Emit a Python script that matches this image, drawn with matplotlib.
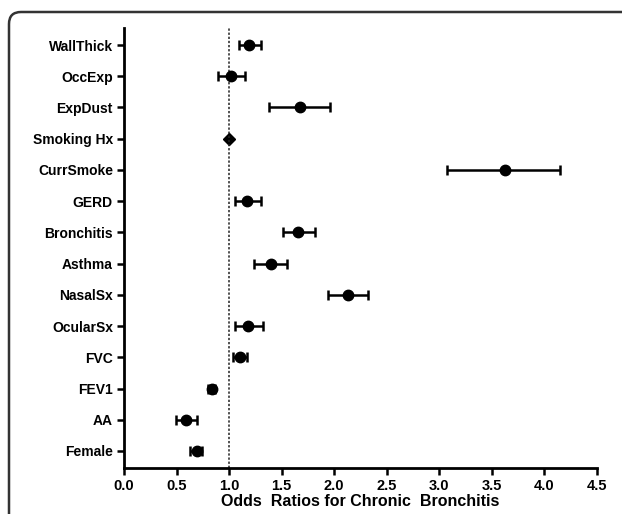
import matplotlib.pyplot as plt
import numpy as np
from matplotlib.patches import FancyBboxPatch
from matplotlib.transforms import IdentityTransform

# Odds ratios with 95% CI, listed bottom to top
labels = ['Female', 'AA', 'FEV1', 'FVC', 'OcularSx', 'NasalSx', 'Asthma',
          'Bronchitis', 'GERD', 'CurrSmoke', 'Smoking Hx', 'ExpDust',
          'OccExp', 'WallThick']
odds = [0.69, 0.59, 0.84, 1.10, 1.18, 2.13, 1.40,
        1.66, 1.17, 3.62, 1.00, 1.67, 1.02, 1.19]
ci_low = [0.63, 0.49, 0.80, 1.04, 1.06, 1.94, 1.24,
          1.51, 1.06, 3.07, 1.00, 1.38, 0.89, 1.09]
ci_high = [0.74, 0.69, 0.87, 1.17, 1.32, 2.32, 1.55,
           1.82, 1.30, 4.15, 1.00, 1.96, 1.15, 1.30]
xticks = [0.0, 0.5, 1.0, 1.5, 2.0, 2.5, 3.0, 3.5, 4.0, 4.5]

plt.rcParams['font.family'] = ['Liberation Sans', 'DejaVu Sans']
plt.rcParams['font.weight'] = 'bold'

fig = plt.figure(figsize=(6.22, 5.14), dpi=100)
ax = fig.add_axes([124 / 622, 1 - 468 / 514, 473 / 622, 440 / 514])

y = np.arange(len(labels))
for i in range(len(labels)):
    if labels[i] == 'Smoking Hx':
        ax.plot(odds[i], y[i], marker='D', color='black', markersize=6.5)
        continue
    ax.errorbar(odds[i], y[i],
                xerr=[[odds[i] - ci_low[i]], [ci_high[i] - odds[i]]],
                fmt='o', color='black', markersize=7.5, elinewidth=1.8,
                capsize=3.5, capthick=1.8)

# reference line at OR = 1
ax.axvline(1.0, color='#222222', linestyle=(0, (1.5, 1.2)), linewidth=1.1)

ax.set_xlim(0, 4.5)
ax.set_ylim(-0.545, 13.545)
ax.set_xticks(xticks)
ax.set_xticklabels(['%.1f' % t for t in xticks], fontsize=10.5, fontweight='bold')
ax.set_yticks(y)
ax.set_yticklabels(labels, fontsize=10, fontweight='bold')
ax.tick_params(axis='both', direction='out', length=5, width=1.8, pad=3)
ax.spines['top'].set_visible(False)
ax.spines['right'].set_visible(False)
ax.spines['left'].set_linewidth(2)
ax.spines['bottom'].set_linewidth(2)
ax.set_xlabel('Odds  Ratios for Chronic  Bronchitis', fontsize=11.5,
              fontweight='bold', labelpad=1)

# frame around the panel (cropped on the right and bottom)
frame = FancyBboxPatch((9, -40), 700, 514 - 12 + 40,
                       boxstyle='round,pad=0,rounding_size=12',
                       transform=IdentityTransform(), fill=False,
                       edgecolor='#333333', linewidth=1.8)
fig.patches.append(frame)

fig.savefig('out.png', dpi=100)
